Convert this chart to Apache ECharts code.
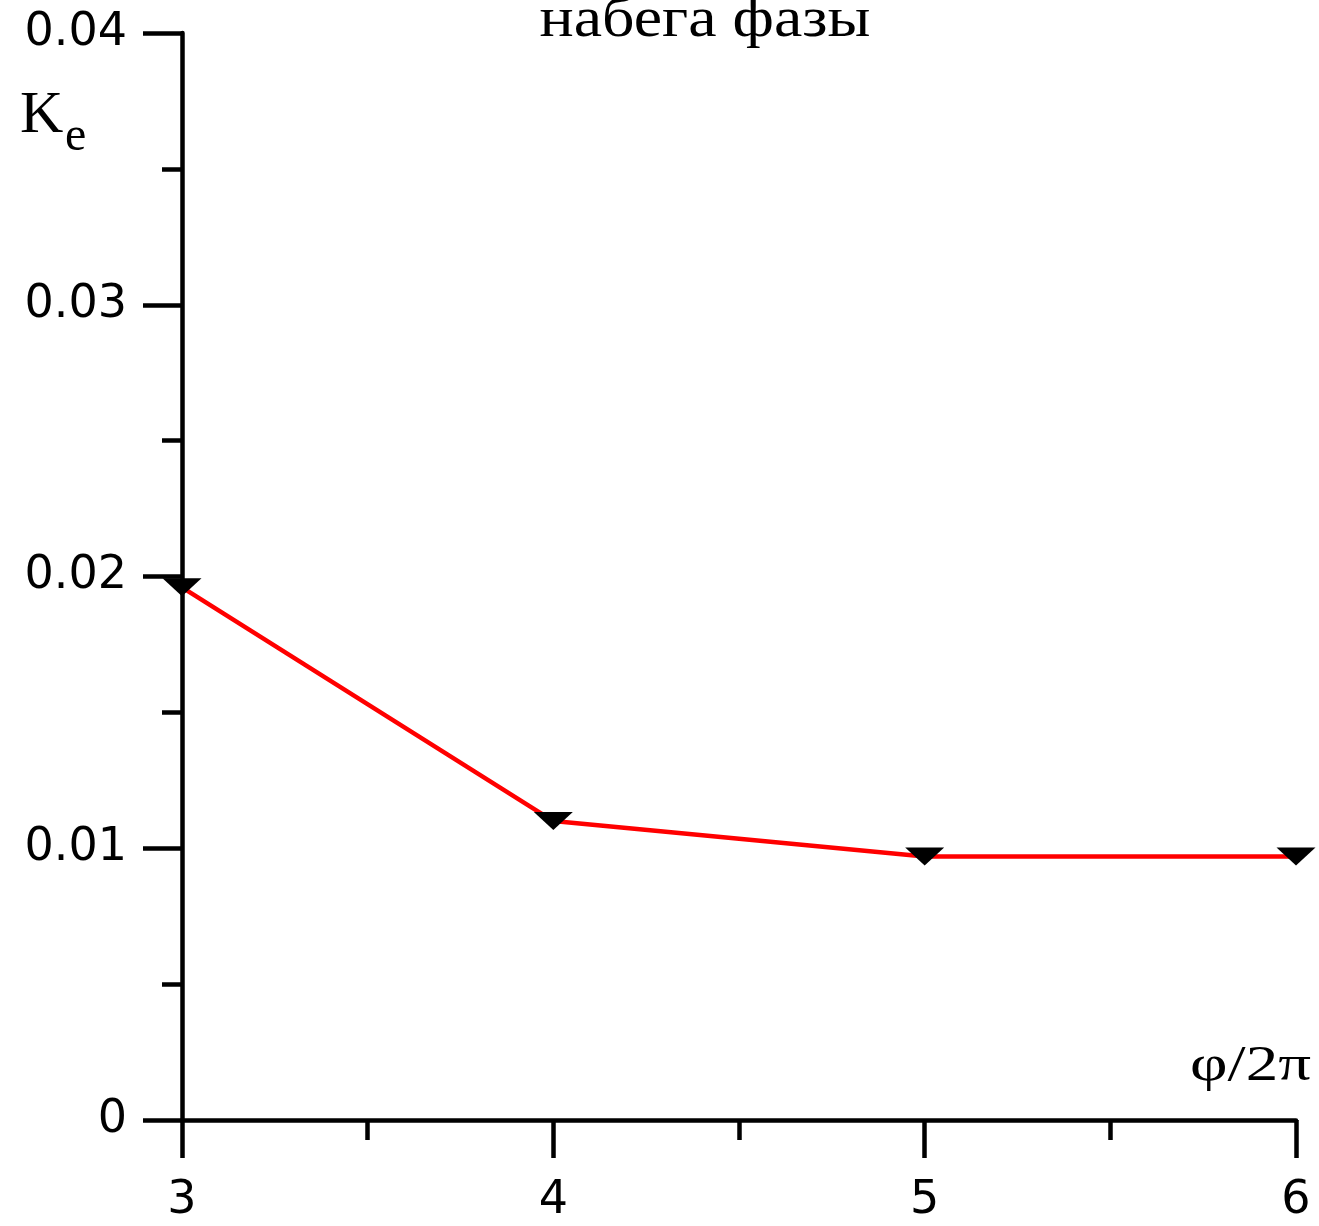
<!DOCTYPE html>
<html>
<head>
<meta charset="utf-8">
<script src="https://cdn.jsdelivr.net/npm/echarts@6/dist/echarts.min.js"></script>
<style>
  html, body { margin: 0; padding: 0; background: #fff; }
  #chart { width: 1319px; height: 1226px; }
</style>
</head>
<body>
<div id="chart"></div>
<script>
// значения
var phaseX = [3, 4, 5, 6]
var keValues = [0.0196, 0.0110, 0.0097, 0.0097]
var yTicks = [0, 0.01, 0.02, 0.03, 0.04]
var xTicks = [3, 4, 5, 6]

var points = phaseX.map(function (x, i) { return [x, keValues[i]] })

var axisColor = '#000'
var tickFont = 'DejaVu Sans'

var myChart = echarts.init(document.getElementById('chart'))

var option = {
  backgroundColor: '#fff',
  animation: false,
  grid: {
    left: 182,
    right: 23,
    top: 33,
    bottom: 106
  },
  xAxis: {
    type: 'value',
    min: xTicks[0],
    max: xTicks[xTicks.length - 1],
    interval: 1,
    axisLine: { lineStyle: { color: axisColor, width: 4.5 } },
    // метки вниз от оси
    axisTick: { show: true, inside: false, length: 38, lineStyle: { color: axisColor, width: 4.5 } },
    minorTick: { show: true, splitNumber: 2, length: 20, lineStyle: { color: axisColor, width: 4.5 } },
    splitLine: { show: false },
    axisLabel: {
      color: '#000',
      fontFamily: tickFont,
      fontSize: 46,
      margin: 58,
      showMinLabel: true,
      showMaxLabel: true
    }
  },
  yAxis: {
    type: 'value',
    min: yTicks[0],
    max: yTicks[yTicks.length - 1],
    interval: 0.01,
    axisLine: { lineStyle: { color: axisColor, width: 4.5 } },
    axisTick: { show: true, inside: false, length: 39, lineStyle: { color: axisColor, width: 4.5 } },
    minorTick: { show: true, splitNumber: 2, length: 20, lineStyle: { color: axisColor, width: 4.5 } },
    splitLine: { show: false },
    axisLabel: {
      color: '#000',
      fontFamily: tickFont,
      fontSize: 46,
      margin: 55,
      formatter: function (v) { return v === 0 ? '0' : v.toFixed(2) }
    }
  },
  graphic: [
    {
      type: 'text',
      x: 705,
      y: 21,
      scaleX: 1.14,
      style: { text: 'набега фазы', fontFamily: 'Liberation Serif', fontSize: 56, fill: '#000', align: 'center', verticalAlign: 'middle' }
    },
    {
      type: 'text',
      x: 20,
      y: 116,
      style: { text: 'K', fontFamily: 'Liberation Serif', fontSize: 60, fill: '#000', align: 'left', verticalAlign: 'middle' }
    },
    {
      type: 'text',
      x: 65,
      y: 137,
      style: { text: 'e', fontFamily: 'Liberation Serif', fontSize: 48, fill: '#000', align: 'left', verticalAlign: 'middle' }
    },
    {
      type: 'text',
      x: 1311,
      y: 1067,
      scaleX: 1.3,
      style: { text: 'φ/2π', fontFamily: 'Liberation Serif', fontSize: 50, fill: '#000', align: 'right', verticalAlign: 'middle' }
    }
  ],
  series: [
    {
      type: 'line',
      data: points,
      symbol: 'triangle',
      symbolRotate: 180,
      symbolSize: [39, 18],
      itemStyle: { color: '#000' },
      lineStyle: { color: '#ff0000', width: 4.5 },
      z: 3
    }
  ]
}

myChart.setOption(option)
</script>
</body>
</html>
